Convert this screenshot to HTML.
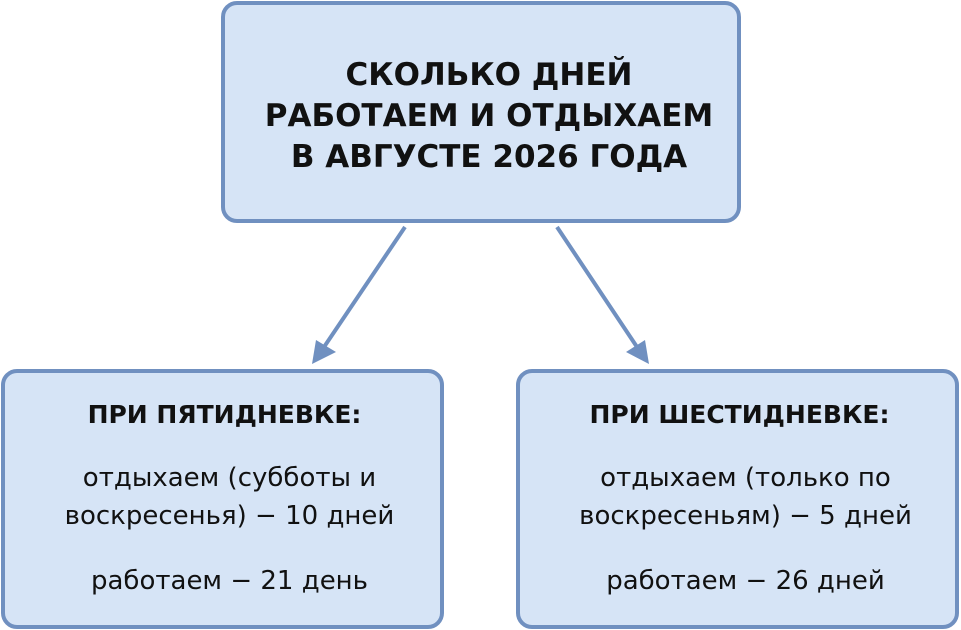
<!DOCTYPE html><html><head><meta charset="utf-8"><style>
body{margin:0;width:961px;height:630px;background:#fff;position:relative;overflow:hidden;font-family:"DejaVu Sans",Verdana,sans-serif;color:#111}
.b{position:absolute;box-sizing:border-box;background:#d6e4f6;border:4px solid #7090c0;border-radius:16px;text-align:center}
.t{position:absolute;left:0;right:0;text-align:center;white-space:nowrap}
</style></head><body>
<div class="b" style="left:221px;top:1px;width:520px;height:222px"></div>
<div class="t" style="left:229px;width:520px;top:55px;font-weight:bold;font-size:31px;line-height:41px">СКОЛЬКО ДНЕЙ<br>РАБОТАЕМ И ОТДЫХАЕМ<br>В АВГУСТЕ 2026 ГОДА</div>
<div class="b" style="left:1px;top:369px;width:443px;height:260px"></div>
<div class="b" style="left:516px;top:369px;width:443px;height:260px"></div>
<div class="t" style="left:3px;width:443px;top:400px;font-weight:bold;font-size:25px;line-height:30px">ПРИ ПЯТИДНЕВКЕ:</div>
<div class="t" style="left:8px;width:443px;top:459px;font-size:26px;line-height:38px">отдыхаем (субботы и<br>воскресенья) − 10 дней</div>
<div class="t" style="left:8px;width:443px;top:566px;font-size:26px;line-height:30px">работаем − 21 день</div>
<div class="t" style="left:518px;width:443px;top:400px;font-weight:bold;font-size:25px;line-height:30px">ПРИ ШЕСТИДНЕВКЕ:</div>
<div class="t" style="left:524px;width:443px;top:459px;font-size:26px;line-height:38px">отдыхаем (только по<br>воскресеньям) − 5 дней</div>
<div class="t" style="left:524px;width:443px;top:566px;font-size:26px;line-height:30px">работаем − 26 дней</div>
<svg width="961" height="630" style="position:absolute;left:0;top:0">
<g stroke="#7090c0" stroke-width="4" fill="#7090c0">
<line x1="405" y1="227" x2="322" y2="350"/>
<line x1="557" y1="227" x2="639" y2="350"/>
</g>
<polygon points="312,364 316,340 336,352" fill="#7090c0"/>
<polygon points="649,364 626,352 645,340" fill="#7090c0"/>
</svg>
</body></html>
